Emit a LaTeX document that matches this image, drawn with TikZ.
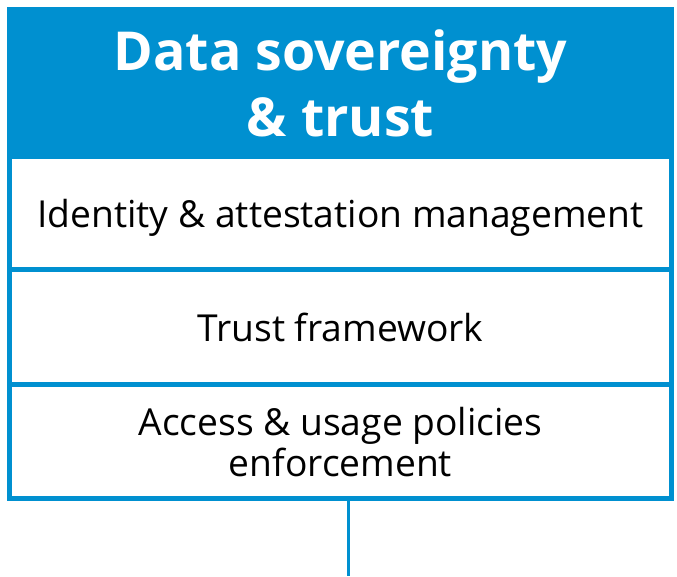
\documentclass[tikz,border=0pt]{standalone}
\usepackage{fontspec}
\setmainfont{Open Sans}
\usetikzlibrary{positioning}
\definecolor{dsblue}{RGB}{0,144,208}
\tikzset{
    cell/.style={draw=dsblue, line width=5pt, fill=white, outer sep=0pt, inner sep=0pt,
        minimum width=662pt, align=center, text=black, text depth=0pt,
        font=\fontsize{37.2}{41}\selectfont},
    head/.style={cell, fill=dsblue, text=white, font=\fontsize{53.7}{66}\selectfont\bfseries},
}
\begin{document}
\begin{tikzpicture}[x=1pt,y=-1pt]
    \useasboundingbox (0,0) rectangle (677,576);
    %header
    \node[head, minimum height=147pt] (hdr) at (340.5,83) {Data sovereignty\\\& trust};
    %rows
    \node[cell, minimum height=113pt, below=0pt of hdr] (ident) {Identity \& attestation management};
    \node[cell, minimum height=115pt, below=0pt of ident] (trust) {Trust framework};
    \node[cell, minimum height=114pt, below=0pt of trust] (policy) {Access \& usage policies\\enforcement};
    %line down
    \coordinate (tail) at (348.5,576);
    \draw[dsblue, line width=3.3pt] (policy.south -| tail) -- (tail);
\end{tikzpicture}
\end{document}
